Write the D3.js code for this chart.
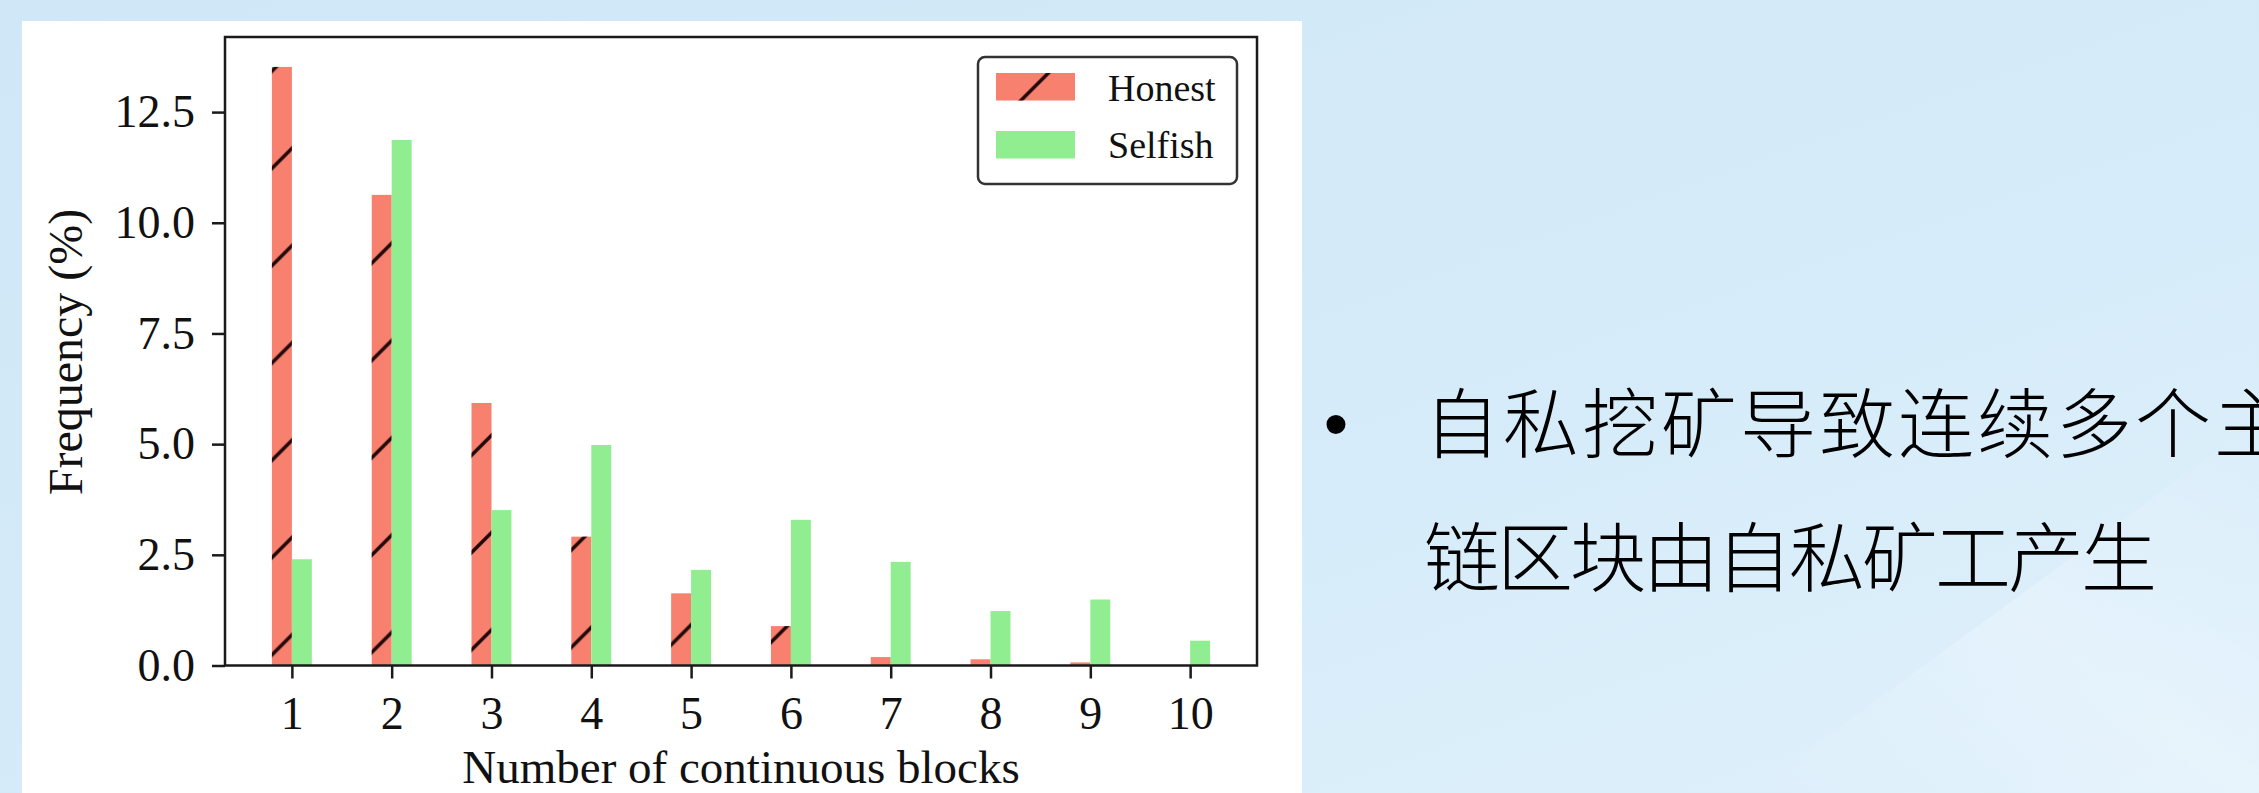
<!DOCTYPE html>
<html>
<head>
<meta charset="utf-8">
<script src="https://cdn.jsdelivr.net/npm/d3@7"></script>
<style>
  html, body { margin: 0; padding: 0; background: #d3e9f8; }
  svg { display: block; }
</style>
</head>
<body>
<svg id="slide" width="2259" height="793"></svg>
<script>
// Chart data: share of runs (%) by length of consecutive main-chain blocks
const categories = [1, 2, 3, 4, 5, 6, 7, 8, 9, 10];
const honestValues = [13.52, 10.63, 5.93, 2.91, 1.63, 0.89, 0.19, 0.14, 0.07, 0];
const selfishValues = [2.40, 11.87, 3.51, 4.98, 2.16, 3.29, 2.34, 1.23, 1.49, 0.56];
const yTickValues = [0, 2.5, 5, 7.5, 10, 12.5];
const seriesNames = ["Honest", "Selfish"];
const bulletLines = ["自私挖矿导致连续多个主", "链区块由自私矿工产生"];

const W = 2259, H = 793;
const svg = d3.select("#slide");
const defs = svg.append("defs");

// slide background
const bg = defs.append("linearGradient").attr("id", "bgGrad")
  .attr("x1", "0").attr("y1", "0").attr("x2", "1").attr("y2", "1");
bg.append("stop").attr("offset", "0%").attr("stop-color", "#cfe7f7");
bg.append("stop").attr("offset", "55%").attr("stop-color", "#d5ebf9");
bg.append("stop").attr("offset", "100%").attr("stop-color", "#dff0fb");
svg.append("rect").attr("width", W).attr("height", H).attr("fill", "url(#bgGrad)");

const band = defs.append("linearGradient").attr("id", "bandGrad")
  .attr("x1", "0").attr("y1", "1").attr("x2", "1").attr("y2", "0");
band.append("stop").attr("offset", "0%").attr("stop-color", "#ffffff").attr("stop-opacity", 0);
band.append("stop").attr("offset", "50%").attr("stop-color", "#ffffff").attr("stop-opacity", 0.25);
band.append("stop").attr("offset", "100%").attr("stop-color", "#ffffff").attr("stop-opacity", 0);
svg.append("polygon")
  .attr("points", "1750,793 2259,420 2259,793")
  .attr("fill", "url(#bandGrad)");

// white figure panel
svg.append("rect").attr("x", 22).attr("y", 21).attr("width", 1280).attr("height", H - 21)
  .attr("fill", "#ffffff");

// hatch for the Honest series ('/' pattern, anchored to the page)
const hs = 97.3;
const pat = defs.append("pattern").attr("id", "hatch")
  .attr("patternUnits", "userSpaceOnUse")
  .attr("x", 51.1).attr("y", 0).attr("width", hs).attr("height", hs);
[[0, hs, hs, 0], [-6, 6, 6, -6], [hs - 6, hs + 6, hs + 6, hs - 6]].forEach(([a, b, c, d]) => {
  pat.append("line").attr("x1", a).attr("y1", b).attr("x2", c).attr("y2", d)
    .attr("stroke", "#220808").attr("stroke-width", 3.5);
});

const colors = { Honest: "#f7806f", Selfish: "#90ee90" };

// plot area
const plot = { left: 225, right: 1257, top: 37, bottom: 665.5 };
const barW = 0.2;
const xPad = (categories[categories.length - 1] - categories[0] + 2 * barW) * 0.05;
const x = d3.scaleLinear()
  .domain([categories[0] - barW - xPad, categories[categories.length - 1] + barW + xPad])
  .range([plot.left, plot.right]);
const yMax = d3.max(honestValues.concat(selfishValues)) * 1.05;
const y = d3.scaleLinear().domain([0, yMax]).range([plot.bottom, plot.top]);

const g = svg.append("g");

const honestData = categories.map((c, i) => ({ c, v: honestValues[i] }));
const selfishData = categories.map((c, i) => ({ c, v: selfishValues[i] }));

// Honest bars (left of tick) with hatch overlay
g.selectAll("rect.honest").data(honestData).join("rect")
  .attr("class", "honest")
  .attr("x", d => x(d.c - barW)).attr("width", d => x(d.c) - x(d.c - barW))
  .attr("y", d => y(d.v)).attr("height", d => y(0) - y(d.v))
  .attr("fill", colors.Honest);
g.selectAll("rect.honestHatch").data(honestData).join("rect")
  .attr("class", "honestHatch")
  .attr("x", d => x(d.c - barW)).attr("width", d => x(d.c) - x(d.c - barW))
  .attr("y", d => y(d.v)).attr("height", d => y(0) - y(d.v))
  .attr("fill", "url(#hatch)");

// Selfish bars (right of tick)
g.selectAll("rect.selfish").data(selfishData).join("rect")
  .attr("class", "selfish")
  .attr("x", d => x(d.c)).attr("width", d => x(d.c + barW) - x(d.c))
  .attr("y", d => y(d.v)).attr("height", d => y(0) - y(d.v))
  .attr("fill", colors.Selfish);

const axisFont = "'Liberation Serif', 'Times New Roman', serif";

// axes
const yAxis = svg.append("g").attr("transform", `translate(${plot.left},0)`)
  .call(d3.axisLeft(y).tickValues(yTickValues).tickFormat(d3.format(".1f"))
    .tickSize(13).tickPadding(17));
const xAxis = svg.append("g").attr("transform", `translate(0,${plot.bottom})`)
  .call(d3.axisBottom(x).tickValues(categories).tickFormat(d3.format("d"))
    .tickSize(13).tickPadding(18));
[yAxis, xAxis].forEach(a => {
  a.select(".domain").remove();
  a.selectAll(".tick line").attr("stroke", "#1a1a1a").attr("stroke-width", 2.5);
  a.selectAll(".tick text").attr("fill", "#111").style("font-family", axisFont).style("font-size", "46px");
});

// spines
svg.append("rect")
  .attr("x", plot.left).attr("y", plot.top)
  .attr("width", plot.right - plot.left).attr("height", plot.bottom - plot.top)
  .attr("fill", "none").attr("stroke", "#1a1a1a").attr("stroke-width", 2.5);

// axis titles
svg.append("text")
  .attr("transform", "translate(82,352) rotate(-90)")
  .attr("text-anchor", "middle")
  .style("font-family", axisFont).style("font-size", "48px").attr("fill", "#111")
  .text("Frequency (%)");
svg.append("text")
  .attr("x", (plot.left + plot.right) / 2).attr("y", 783)
  .attr("text-anchor", "middle")
  .style("font-family", axisFont).style("font-size", "47px").attr("fill", "#111")
  .text("Number of continuous blocks");

// legend
const lg = svg.append("g");
lg.append("rect").attr("x", 978).attr("y", 57).attr("width", 259).attr("height", 127)
  .attr("rx", 7).attr("fill", "#ffffff").attr("stroke", "#333").attr("stroke-width", 2.5);
const legendRows = [
  { name: seriesNames[0], y: 73, base: 101 },
  { name: seriesNames[1], y: 131, base: 158 }
];
legendRows.forEach(r => {
  lg.append("rect").attr("x", 996).attr("y", r.y).attr("width", 79).attr("height", 27.5)
    .attr("fill", colors[r.name]);
  if (r.name === "Honest") {
    lg.append("rect").attr("x", 996).attr("y", r.y).attr("width", 79).attr("height", 27.5)
      .attr("fill", "url(#hatch)");
  }
  lg.append("text").attr("x", 1108).attr("y", r.base)
    .style("font-family", axisFont).style("font-size", "38px").attr("fill", "#111")
    .text(r.name);
});

// bullet text on the right (first line is justified wider than the last)
const cjkFont = "'Noto Sans CJK SC', sans-serif";
svg.append("text").attr("x", 1336).attr("y", 448).attr("text-anchor", "middle")
  .style("font-family", "'Liberation Sans', Arial, sans-serif").style("font-size", "70px")
  .attr("fill", "#000").text("•");
const lineSpacing = [3, -3];
bulletLines.forEach((t, i) => {
  svg.append("text").attr("x", 1424).attr("y", 452 + i * 134)
    .style("font-family", cjkFont).style("font-size", "76px").style("font-weight", 300)
    .style("letter-spacing", lineSpacing[i] + "px").attr("fill", "#000")
    .text(t);
});
</script>
</body>
</html>
